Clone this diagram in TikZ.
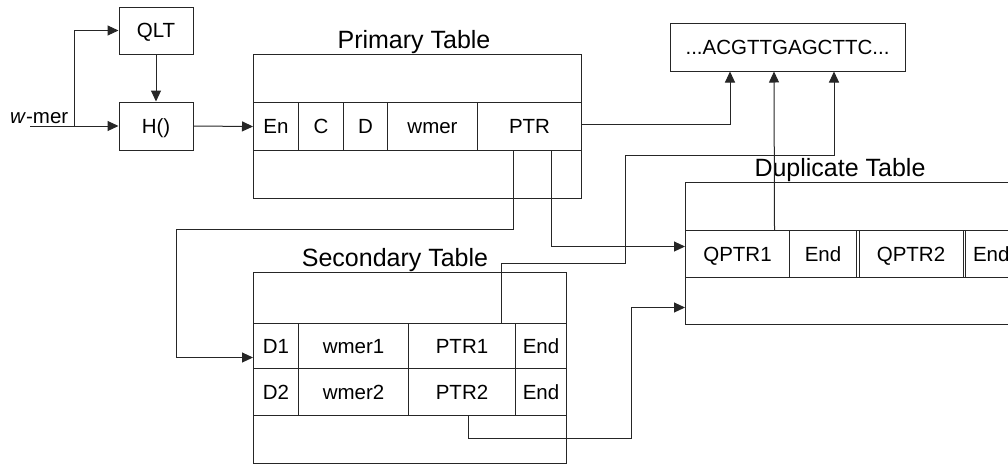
\documentclass[tikz,border=0pt]{standalone}
\usepackage{fontspec}
\setmainfont{Liberation Sans}
\usetikzlibrary{arrows.meta}

\tikzset{
  ln/.style={line width=1pt, draw=black!85},
  txt/.style={font=\fontsize{20.5}{24}\selectfont, text height=14.7pt, text depth=0pt},
  cell/.style={ln, txt, rectangle, inner sep=0pt, anchor=north west},
  box/.style={ln, txt, rectangle, inner sep=0pt},
  title/.style={anchor=base, inner sep=0pt, font=\fontsize{25}{30}\selectfont},
  arr/.style={ln, -{Triangle[length=11pt,width=10pt]}},
  wire/.style={ln}
}

\begin{document}
\begin{tikzpicture}[x=1pt,y=-1pt]
\useasboundingbox (0,0) rectangle (1008,464);
\clip (0,0) rectangle (1008,464);

% hash stage
\node[box, minimum width=74pt, minimum height=47pt] (qlt) at (156,30.5) {QLT};
\node[box, minimum width=74pt, minimum height=48pt] (hash) at (156,126) {H()};
\node[anchor=base west, inner sep=0pt, font=\fontsize{20.5}{24}\selectfont] (wlbl) at (10,123) {\textit{w}-mer};
\coordinate (win) at (30,126);
\coordinate (wsplit) at (74,126);

% sequence
\node[box, minimum width=235pt, minimum height=48pt] (seq) at (787.5,47) {...ACGTTGAGCTTC...};

% primary table
\node[title] (ptitle) at (414,48) {Primary Table};
\node[cell, minimum width=328pt, minimum height=48pt] (pTop) at (253,54) {};
\node[cell, minimum width=45pt, minimum height=48pt] (pEn) at (253,102) {En};
\node[cell, minimum width=45pt, minimum height=48pt] (pC) at (298,102) {C};
\node[cell, minimum width=44pt, minimum height=48pt] (pD) at (343,102) {D};
\node[cell, minimum width=90pt, minimum height=48pt] (pW) at (387,102) {wmer};
\node[cell, minimum width=104pt, minimum height=48pt] (pPTR) at (477,102) {PTR};
\node[cell, minimum width=328pt, minimum height=48pt] (pBot) at (253,150) {};

% secondary table
\node[title] (stitle) at (395,266) {Secondary Table};
\node[cell, minimum width=313pt, minimum height=51pt] (sTop) at (253,272) {};
\node[cell, minimum width=45pt, minimum height=45pt] (sD1) at (253,323) {D1};
\node[cell, minimum width=110pt, minimum height=45pt] (sW1) at (298,323) {wmer1};
\node[cell, minimum width=107pt, minimum height=45pt] (sPTR1) at (408,323) {PTR1};
\node[cell, minimum width=51pt, minimum height=45pt] (sE1) at (515,323) {End};
\node[cell, minimum width=45pt, minimum height=47pt] (sD2) at (253,368) {D2};
\node[cell, minimum width=110pt, minimum height=47pt] (sW2) at (298,368) {wmer2};
\node[cell, minimum width=107pt, minimum height=47pt] (sPTR2) at (408,368) {PTR2};
\node[cell, minimum width=51pt, minimum height=47pt] (sE2) at (515,368) {End};
\node[cell, minimum width=313pt, minimum height=48pt] (sBot) at (253,415) {};

% duplicate table (runs past the right edge)
\node[title] (dtitle) at (840,176.5) {Duplicate Table};
\node[cell, minimum width=340pt, minimum height=48pt] (dTop) at (685,182) {};
\node[cell, minimum width=104pt, minimum height=47pt] (dQ1) at (685,230) {QPTR1};
\node[cell, minimum width=67pt, minimum height=47pt] (dE1) at (789,230) {End};
\node[cell, minimum width=104pt, minimum height=47pt] (dQ2) at (858.5,230) {QPTR2};
\node[cell, minimum width=60pt, minimum height=47pt, text width=60pt, align=left] (dE2) at (964.5,230) {\hspace*{8pt}End};
\node[cell, minimum width=340pt, minimum height=47pt] (dLow) at (685,277) {};

% connectors
\draw[wire] (win) -- (wsplit);
\draw[arr] (wsplit) -- (hash.west);
\draw[arr] (wsplit) |- (qlt.west);
\draw[arr] (qlt.south) -- (hash.north);
\draw[arr] (hash.east) -- (pEn.west);

\draw[arr] ([yshift=1.7pt]pPTR.east) -| ([xshift=-57.5pt]seq.south);

\coordinate (b1) at (176,229);
\draw[arr] ([xshift=-16pt]pPTR.south) |- (b1) |- ([yshift=-11.5pt]sD1.west);

\draw[arr] ([xshift=22pt]pPTR.south) |- ([yshift=7.5pt]dQ1.west);

\coordinate (b2) at (625,263);
\coordinate (b3) at (834,155);
\draw[arr] ([xshift=39.5pt]sPTR1.north) |- (b2) |- (b3) -- ([xshift=46.5pt]seq.south);

\coordinate (b4) at (631,438);
\draw[arr] ([xshift=6.5pt]sPTR2.south) |- (b4) |- ([yshift=-6.5pt]dLow.west);

\draw[arr] ([xshift=37pt]dQ1.north) -- ([xshift=-13.5pt]seq.south);
\end{tikzpicture}
\end{document}
